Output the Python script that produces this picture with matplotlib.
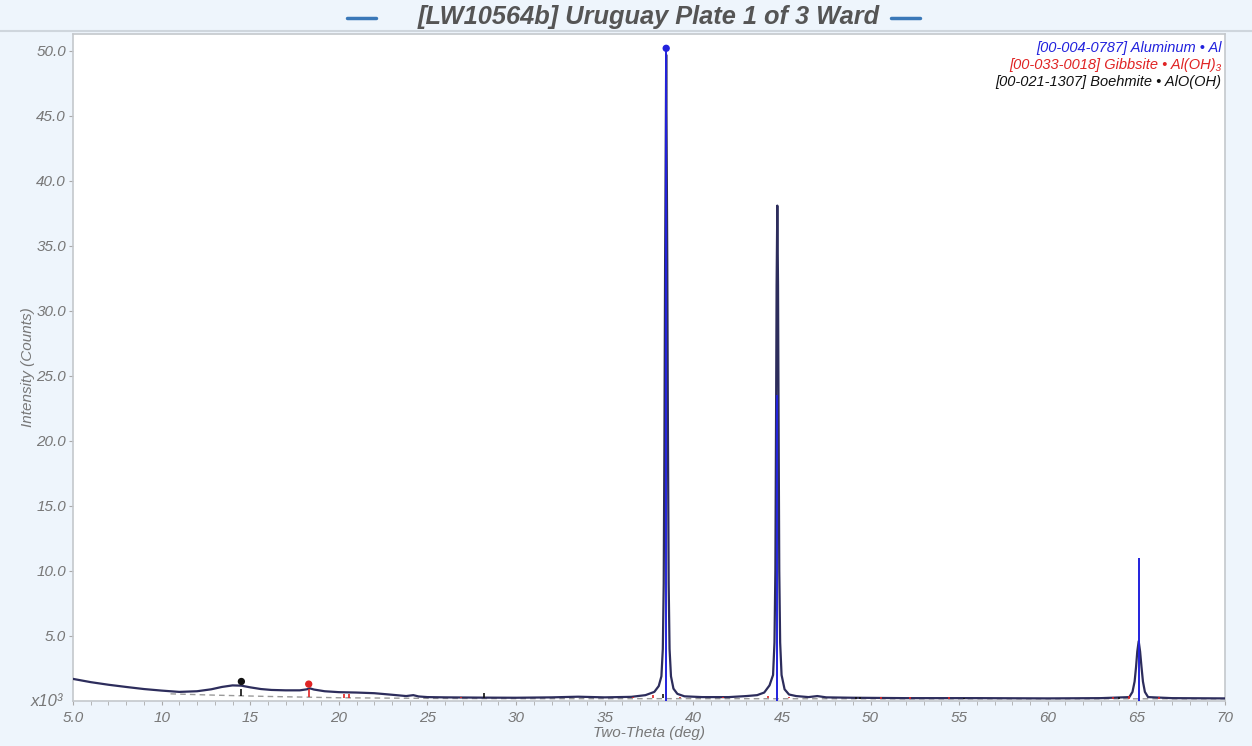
import numpy as np
from matplotlib import pyplot as plt
from matplotlib.lines import Line2D

# observed pattern (two-theta, intensity x10^3)
two_theta = [5.0, 6.0, 7.0, 8.0, 9.0, 10.0, 11.0, 12.0, 12.8, 13.4, 14.0, 14.5, 15.0, 15.6, 16.2, 17.0,
             17.8, 18.2, 18.35, 18.6, 19.2, 20.0, 21.0, 22.0, 23.0, 23.8, 24.2, 24.5, 25.0, 26.0, 28.0,
             30.0, 32.0, 33.5, 35.0, 36.5, 37.3, 37.8, 38.05, 38.2, 38.28, 38.33, 38.37, 38.41, 38.47,
             38.53, 38.57, 38.61, 38.66, 38.74, 38.88, 39.1, 39.5, 40.5, 42.0, 43.0, 43.6, 44.0, 44.3,
             44.5, 44.58, 44.63, 44.67, 44.70, 44.74, 44.78, 44.81, 44.85, 44.90, 44.98, 45.15, 45.4,
             45.8, 46.5, 47.0, 47.5, 49.0, 52.0, 56.0, 60.0, 63.0, 64.6, 64.78, 64.9, 64.98, 65.05,
             65.13, 65.21, 65.29, 65.37, 65.48, 65.66, 67.0, 70.0]
intensity = [1.70, 1.45, 1.25, 1.08, 0.92, 0.80, 0.70, 0.75, 0.90, 1.08, 1.20, 1.18, 1.05, 0.92, 0.85, 0.82,
             0.82, 0.90, 0.98, 0.88, 0.75, 0.68, 0.65, 0.60, 0.48, 0.38, 0.45, 0.35, 0.30, 0.28, 0.26,
             0.25, 0.28, 0.33, 0.28, 0.32, 0.45, 0.70, 1.15, 1.9, 4.0, 9.0, 20.0, 34.0, 49.7,
             34.0, 20.0, 9.0, 4.0, 1.9, 0.95, 0.55, 0.36, 0.30, 0.30, 0.38, 0.45, 0.65, 1.2,
             2.0, 4.5, 10.0, 22.0, 32.0, 38.1, 32.0, 22.0, 10.0, 4.5, 2.0, 0.9, 0.5,
             0.38, 0.30, 0.38, 0.28, 0.25, 0.22, 0.22, 0.20, 0.22, 0.30, 0.70, 1.5, 2.6, 3.8,
             4.6, 3.8, 2.6, 1.5, 0.70, 0.30, 0.22, 0.20]

# fitted background
bg_theta = [10.5, 13.0, 16.0, 20.0, 25.0, 30.0, 40.0, 50.0, 60.0, 70.0]
bg_int = [0.55, 0.45, 0.35, 0.25, 0.20, 0.18, 0.18, 0.17, 0.17, 0.17]

# reference sticks
al_pos = [38.47, 44.74, 65.13]
al_top = [50.0, 23.5, 11.0]
gib_pos = [18.3, 20.3, 20.55, 26.9, 36.6, 37.7, 39.25, 41.7, 44.2, 45.4, 50.6, 52.2, 54.4, 63.7, 64.6, 66.3]
gib_base = [0.30, 0.25, 0.25, 0.2, 0.2, 0.2, 0.2, 0.2, 0.2, 0.2, 0.17, 0.17, 0.17, 0.17, 0.17, 0.17]
gib_top = [0.95, 0.55, 0.55, 0.32, 0.30, 0.45, 0.30, 0.30, 0.40, 0.30, 0.30, 0.30, 0.30, 0.30, 0.35, 0.28]
boe_pos = [14.5, 28.2, 38.3, 49.2, 49.4, 55.3, 64.0]
boe_base = [0.40, 0.2, 0.2, 0.17, 0.17, 0.17, 0.17]
boe_top = [0.95, 0.60, 0.55, 0.30, 0.30, 0.25, 0.30]

dot_pos = [38.47, 18.3, 14.5]
dot_int = [50.2, 1.3, 1.5]

legend_lines = ["[00-004-0787] Aluminum \u2022 Al",
                "[00-033-0018] Gibbsite \u2022 Al(OH)\u2083",
                "[00-021-1307] Boehmite \u2022 AlO(OH)"]

BLUE = "#2222dd"
RED = "#e02424"
BLACK = "#111111"
PATTERN = "#2d2d5c"
GREY = "#777777"

plt.rcParams['font.family'] = ['Liberation Sans', 'DejaVu Sans']

fig = plt.figure(figsize=(12.52, 7.46), dpi=100)
fig.patch.set_facecolor("#eef5fc")
ax = fig.add_axes([73 / 1252, 1 - 701 / 746, (1225 - 73) / 1252, (701 - 34) / 746])
ax.set_facecolor("white")

ax.plot(bg_theta, bg_int, color="#9a9a9a", lw=1.0, ls=(0, (4, 3)), zorder=2)
ax.plot(two_theta, intensity, color=PATTERN, lw=1.6, zorder=3)

ax.vlines(al_pos, 0, al_top, color=BLUE, lw=1.4, zorder=4)
ax.vlines(gib_pos, gib_base, gib_top, color=RED, lw=1.2, zorder=4)
ax.vlines(boe_pos, boe_base, boe_top, color=BLACK, lw=1.2, zorder=4)
ax.scatter(dot_pos, dot_int, c=[BLUE, RED, BLACK], s=18, zorder=5)

ax.set_xlim(5, 70)
ax.set_ylim(0, 51.3)
ax.set_xticks(np.arange(5, 71, 5))
ax.set_xticklabels(["5.0"] + [str(v) for v in range(10, 71, 5)])
ax.set_xticks(np.arange(5, 71, 1), minor=True)
ax.set_yticks(np.arange(5, 51, 5))
ax.set_yticklabels(["%.1f" % v for v in np.arange(5, 51, 5)])
ax.tick_params(axis="both", which="major", colors="#aaaaaa", labelcolor=GREY, length=3, pad=2,
               labelsize=11)
ax.tick_params(axis="x", which="major", pad=4)
ax.tick_params(axis="x", which="minor", colors="#aaaaaa", length=3)
for lab in ax.get_xticklabels() + ax.get_yticklabels():
    lab.set_style("italic")
for sp in ax.spines.values():
    sp.set_color("#c4c8cc")
    sp.set_linewidth(1.2)

ax.text(-0.009, 0, "x10\u00b3", transform=ax.get_yaxis_transform(), ha="right", va="center",
        color=GREY, fontsize=12, style="italic")
ax.set_xlabel("Two-Theta (deg)", color=GREY, fontsize=11, style="italic", labelpad=1)
ax.set_ylabel("Intensity (Counts)", color=GREY, fontsize=11, style="italic", labelpad=1)

for i, (txt, col) in enumerate(zip(legend_lines, [BLUE, RED, BLACK])):
    ax.text(0.997, 0.990 - i * 0.026, txt, transform=ax.transAxes, ha="right", va="top",
            color=col, fontsize=10.5, style="italic")

# title band
fig.text(649 / 1252, 1 - 17 / 746, "[LW10564b] Uruguay Plate 1 of 3 Ward", ha="center", va="center",
         fontsize=18.3, weight="bold", style="italic", color="#555555")
for x0, x1 in [(347, 376), (891, 920)]:
    fig.add_artist(Line2D([x0 / 1252, x1 / 1252], [1 - 18 / 746] * 2, color="#3a78b8", lw=2.5,
                          solid_capstyle="round"))
fig.add_artist(Line2D([0, 1], [1 - 31 / 746] * 2, color="#cfd6dd", lw=1.5))

fig.savefig("out.png", dpi=100, facecolor=fig.get_facecolor())
